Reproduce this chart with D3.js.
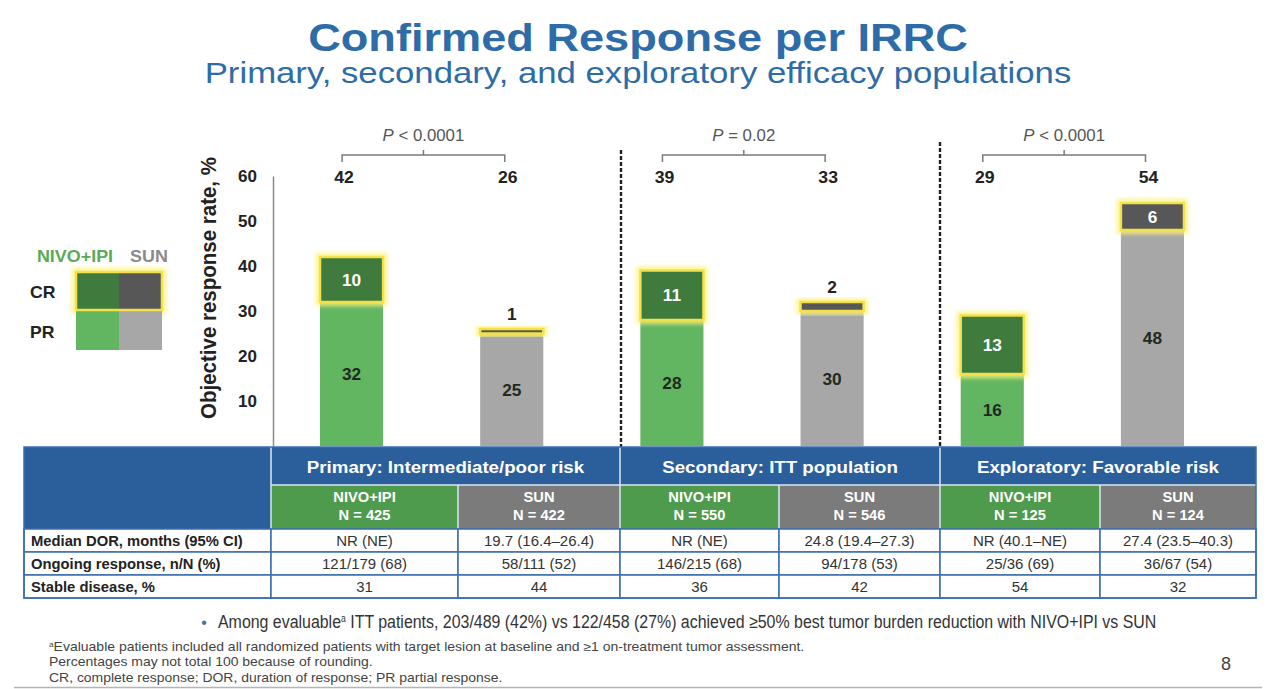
<!DOCTYPE html>
<html>
<head>
<meta charset="utf-8">
<script src="https://cdn.jsdelivr.net/npm/d3@7"></script>
<style>
body { margin: 0; background: #fff; }
svg { display: block; font-family: "Liberation Sans", Arial, Helvetica, sans-serif; }
</style>
</head>
<body>
<svg id="chart" width="1278" height="689"></svg>
<script>
// ---- data ----
const groups = ["Primary: Intermediate/poor risk", "Secondary: ITT population", "Exploratory: Favorable risk"];
const arms = ["NIVO+IPI", "SUN"];
const barKeys = ["pri-nivo", "pri-sun", "sec-nivo", "sec-sun", "exp-nivo", "exp-sun"];
const crValues = [10, 1, 11, 2, 13, 6];
const prValues = [32, 25, 28, 30, 16, 48];
const totalLabels = [42, 26, 39, 33, 29, 54];
const pLabels = ["< 0.0001", "= 0.02", "< 0.0001"];
const nValues = [425, 422, 550, 546, 125, 124];
const yTicks = [10, 20, 30, 40, 50, 60];
const rowLabels = ["Median DOR, months (95% CI)", "Ongoing response, n/N (%)", "Stable disease, %"];
const medianDOR = ["NR (NE)", "19.7 (16.4\u201326.4)", "NR (NE)", "24.8 (19.4\u201327.3)", "NR (40.1\u2013NE)", "27.4 (23.5\u201340.3)"];
const ongoing = ["121/179 (68)", "58/111 (52)", "146/215 (68)", "94/178 (53)", "25/36 (69)", "36/67 (54)"];
const stableDisease = ["31", "44", "36", "42", "54", "32"];

const blue = "#2a5f9c", titleBlue = "#2e6ca8";
const prColor = ["#63b661", "#a7a7a7"];
const crColor = ["#3e7b3c", "#575757"];
const yellow = "#f3e14a";

const svg = d3.select("#chart");

function label(g, x, y, str, o = {}) {
  return g.append("text")
    .attr("transform", `translate(${x},${y}) scale(${o.sx || 1},1)` + (o.rot ? ` rotate(${o.rot})` : ""))
    .attr("text-anchor", o.anchor || "middle")
    .attr("font-size", o.size || 15)
    .attr("font-weight", o.weight || "normal")
    .attr("font-style", o.style || "normal")
    .attr("fill", o.fill || "#222")
    .text(str);
}

function fitWidth(t, x, y, w) {
  const len = t.node().getBBox().width;
  t.attr("transform", `translate(${x},${y}) scale(${w / len},1)`);
}

// glow filter for the CR outline
const defs = svg.append("defs");
defs.append("filter").attr("id", "glow")
  .attr("x", "-30%").attr("y", "-30%").attr("width", "160%").attr("height", "160%")
  .append("feGaussianBlur").attr("stdDeviation", 2.2);

function glowBox(g, x, yy, w, h) {
  g.append("rect").attr("x", x - 1).attr("y", yy - 1).attr("width", w + 2).attr("height", h + 2)
    .attr("fill", "none").attr("stroke", "#fff27a").attr("stroke-width", 6)
    .attr("opacity", 0.85).attr("filter", "url(#glow)");
}

// ---- titles ----
const t1 = label(svg, 0, 0, "Confirmed Response per IRRC", { size: 38, weight: "bold", fill: titleBlue });
fitWidth(t1, 638, 51, 660);
const t2 = label(svg, 0, 0, "Primary, secondary, and exploratory efficacy populations", { size: 29, fill: titleBlue });
fitWidth(t2, 638, 83, 867);

// ---- scales ----
const y = d3.scaleLinear().domain([0, 60]).range([446, 176]);
const x = d3.scaleBand().domain(barKeys).range([320, 1184]).paddingInner(0.606).paddingOuter(0);
const bw = x.bandwidth();

// y axis
const ag = svg.append("g").attr("transform", "translate(273,0)")
  .call(d3.axisLeft(y).tickValues(yTicks).tickSize(0).tickPadding(16));
ag.attr("font-family", null).attr("font-size", 17);
ag.select(".domain").attr("stroke", "#8a8a8a").attr("stroke-width", 1.5);
ag.selectAll(".tick text").attr("font-weight", "bold").attr("fill", "#222");

label(svg, 216, 288, "Objective response rate, %", { size: 20.5, weight: "bold", sx: 1.12, rot: -90 });

// dashed separators between the three populations
const sepX = [621, 940];
const sepTop = [150, 142];
sepX.forEach((sx, i) => {
  svg.append("line").attr("x1", sx).attr("x2", sx).attr("y1", sepTop[i]).attr("y2", 447)
    .attr("stroke", "#222").attr("stroke-width", 2.4).attr("stroke-dasharray", "4,2");
});

// ---- bars ----
const bars = svg.append("g");
barKeys.forEach((k, i) => {
  const arm = i % 2;
  const x0 = x(k);
  const top = prValues[i] + crValues[i];
  bars.append("rect").attr("x", x0).attr("width", bw)
    .attr("y", y(prValues[i])).attr("height", y(0) - y(prValues[i]))
    .attr("fill", prColor[arm]);
  const cy = y(top), ch = y(prValues[i]) - y(top);
  glowBox(bars, x0, cy, bw, ch);
  bars.append("rect").attr("x", x0).attr("width", bw).attr("y", cy).attr("height", ch)
    .attr("fill", crColor[arm]).attr("stroke", yellow).attr("stroke-width", 2.5);

  label(bars, x0 + bw / 2, (y(prValues[i]) + y(0)) / 2 + 6, prValues[i], { size: 16, weight: "bold", fill: "#1f2a1f", sx: 1.08 });
  if (ch > 16) {
    label(bars, x0 + bw / 2, cy + ch / 2 + 6, crValues[i], { size: 16, weight: "bold", fill: "#fff", sx: 1.08 });
  } else {
    label(bars, x0 + bw / 2, cy - 9, crValues[i], { size: 16, weight: "bold", fill: "#222", sx: 1.08 });
  }
});

// brackets with P values and totals
groups.forEach((g, gi) => {
  const xl = x(barKeys[gi * 2]) + bw * 0.35;
  const xr = x(barKeys[gi * 2 + 1]) + bw * 0.39;
  const xm = (xl + xr) / 2;
  svg.append("path")
    .attr("d", `M${xl},162V155H${xr}V162M${xm},155V150`)
    .attr("fill", "none").attr("stroke", "#7a7a7a").attr("stroke-width", 1.5);
  const pt = label(svg, xm, 141, "", { size: 16, fill: "#555", sx: 1.05 });
  pt.append("tspan").attr("font-style", "italic").text("P");
  pt.append("tspan").text(" " + pLabels[gi]);
  label(svg, xl + 2, 183, totalLabels[gi * 2], { size: 16.5, weight: "bold", fill: "#222", sx: 1.07 });
  label(svg, xr + 3, 183, totalLabels[gi * 2 + 1], { size: 16.5, weight: "bold", fill: "#222", sx: 1.07 });
});

// ---- legend ----
const lg = svg.append("g");
label(lg, 75, 262, arms[0], { size: 16, weight: "bold", fill: "#5aaa56", sx: 1.12 });
label(lg, 149, 262, arms[1], { size: 16, weight: "bold", fill: "#8a8a8a", sx: 1.12 });
label(lg, 30, 298, "CR", { size: 16, weight: "bold", anchor: "start", sx: 1.1 });
label(lg, 30, 338, "PR", { size: 16, weight: "bold", anchor: "start", sx: 1.1 });
glowBox(lg, 76, 272, 86, 38);
arms.forEach((a, i) => {
  lg.append("rect").attr("x", 76 + i * 43).attr("y", 310).attr("width", 43).attr("height", 40).attr("fill", prColor[i]);
  lg.append("rect").attr("x", 76 + i * 43).attr("y", 272).attr("width", 43).attr("height", 38).attr("fill", crColor[i]);
});
lg.append("rect").attr("x", 76).attr("y", 272).attr("width", 86).attr("height", 38)
  .attr("fill", "none").attr("stroke", yellow).attr("stroke-width", 2.5);

// ---- table ----
const colX = [24, 271, 458, 620, 779, 940, 1100, 1256];
const rowY = [447, 485, 529, 552, 575, 598];
const tb = svg.append("g");
tb.append("rect").attr("x", colX[0]).attr("y", rowY[0]).attr("width", colX[7] - colX[0]).attr("height", rowY[2] - rowY[0]).attr("fill", blue);

groups.forEach((g, gi) => {
  const cx = (colX[1 + gi * 2] + colX[3 + gi * 2]) / 2;
  label(tb, cx, 473, g, { size: 17, weight: "bold", fill: "#fff", sx: 1.1 });
});
barKeys.forEach((k, i) => {
  const arm = i % 2;
  tb.append("rect").attr("x", colX[i + 1]).attr("y", rowY[1]).attr("width", colX[i + 2] - colX[i + 1]).attr("height", rowY[2] - rowY[1])
    .attr("fill", arm ? "#7b7b7b" : "#4f9b4d");
  const cx = (colX[i + 1] + colX[i + 2]) / 2;
  label(tb, cx, 502, arms[arm], { size: 14, weight: "bold", fill: "#fff", sx: 1.05 });
  label(tb, cx, 520, "N = " + nValues[i], { size: 14, weight: "bold", fill: "#fff", sx: 1.05 });
});
// light dividers inside header
const hdr = d3.path();
[1, 3, 5].forEach(c => { hdr.moveTo(colX[c], rowY[0]); hdr.lineTo(colX[c], rowY[2]); });
[2, 4, 6].forEach(c => { hdr.moveTo(colX[c], rowY[1]); hdr.lineTo(colX[c], rowY[2]); });
hdr.moveTo(colX[1], rowY[1]); hdr.lineTo(colX[7], rowY[1]);
tb.append("path").attr("d", hdr.toString()).attr("stroke", "#dce6f2").attr("stroke-width", 1.5).attr("fill", "none");

const rows = [medianDOR, ongoing, stableDisease];
rows.forEach((vals, r) => {
  const y0 = rowY[r + 2], y1 = rowY[r + 3];
  for (let c = 0; c < 7; c++) {
    tb.append("rect").attr("x", colX[c]).attr("y", y0).attr("width", colX[c + 1] - colX[c]).attr("height", y1 - y0)
      .attr("fill", "#fff").attr("stroke", "#3a6eae").attr("stroke-width", 1.5);
  }
  const by = (y0 + y1) / 2 + 5.2;
  label(tb, 31, by, rowLabels[r], { size: 14.5, weight: "bold", anchor: "start", fill: "#222", sx: 1.02 });
  vals.forEach((v, i) => {
    label(tb, (colX[i + 1] + colX[i + 2]) / 2, by, v, { size: 15, fill: "#333" });
  });
});
tb.append("rect").attr("x", colX[0]).attr("y", rowY[0]).attr("width", colX[7] - colX[0]).attr("height", rowY[5] - rowY[0])
  .attr("fill", "none").attr("stroke", "#3a6eae").attr("stroke-width", 1.5);

// ---- notes ----
label(svg, 204, 628, "\u2022", { size: 16, fill: "#4a6f9a" });
const bl = label(svg, 0, 0, "", { size: 18.5, anchor: "start", fill: "#333" });
bl.append("tspan").text("Among evaluable");
bl.append("tspan").attr("font-size", 10).attr("dy", -6).text("a");
bl.append("tspan").attr("dy", 6).text(" ITT patients, 203/489 (42%) vs 122/458 (27%) achieved \u226550% best tumor burden reduction with NIVO+IPI vs SUN");
fitWidth(bl, 218, 628, 939);

const f1 = label(svg, 0, 0, "", { size: 12, anchor: "start", fill: "#444" });
f1.append("tspan").attr("font-size", 7).attr("dy", -4).text("a");
f1.append("tspan").attr("dy", 4).text("Evaluable patients included all randomized patients with target lesion at baseline and \u22651 on-treatment tumor assessment.");
fitWidth(f1, 49, 651, 756);
const f2 = label(svg, 0, 0, "Percentages may not total 100 because of rounding.", { size: 12, anchor: "start", fill: "#444" });
fitWidth(f2, 49, 666, 324);
const f3 = label(svg, 0, 0, "CR, complete response; DOR, duration of response; PR partial response.", { size: 12, anchor: "start", fill: "#444" });
fitWidth(f3, 49, 682, 454);

label(svg, 1226, 670, "8", { size: 18, fill: "#444" });
svg.append("line").attr("x1", 14).attr("x2", 1262).attr("y1", 687.5).attr("y2", 687.5).attr("stroke", "#b5b5b5").attr("stroke-width", 1.5);
</script>
</body>
</html>
